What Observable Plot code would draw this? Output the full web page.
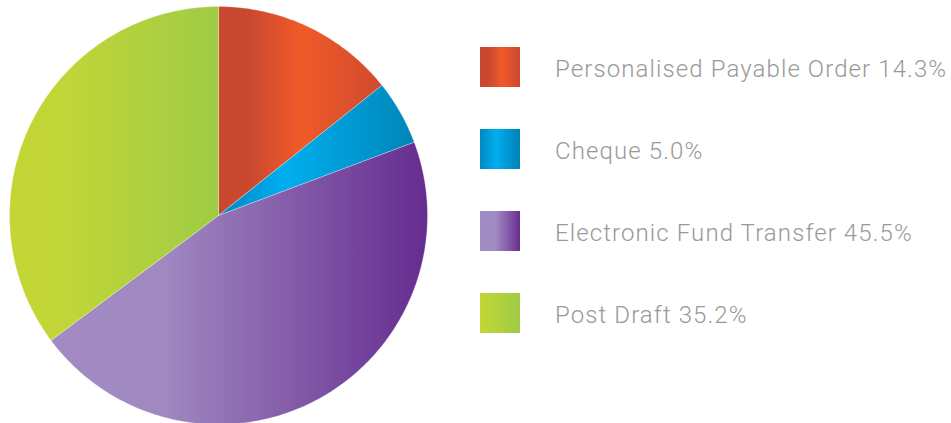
<!DOCTYPE html>
<html>
<head>
<meta charset="utf-8">
<script src="https://cdn.jsdelivr.net/npm/d3@7"></script>
<script src="https://cdn.jsdelivr.net/npm/@observablehq/plot@0.6"></script>
<style>
  body { margin: 0; background: #fff; }
  #wrap { position: relative; width: 951px; height: 423px; overflow: hidden; }
  #chart { position: absolute; left: 0; top: 0; }
  #legend { position: absolute; left: 480px; top: 47px; font-family: Roboto, "Liberation Sans", sans-serif; font-weight: 300; font-size: 24px; letter-spacing: 1.1px; color: #999999; }
  .item { display: flex; align-items: center; height: 40px; margin-bottom: 42px; white-space: nowrap; }
  .item span { position: relative; top: 2px; }
  .sw { width: 40px; height: 40px; margin-right: 35px; flex: none; }
</style>
</head>
<body>
<div id="wrap"><div id="chart"></div><div id="legend"></div></div>
<script>
const categories = ["Personalised Payable Order", "Cheque", "Electronic Fund Transfer", "Post Draft"];
const shares = [14.3, 5.0, 45.5, 35.2];
const labels = ["14.3%", "5.0%", "45.5%", "35.2%"];

const sliceGradients = [
  [[0, "#c8472f"], [0.18, "#c94830"], [0.5, "#f05a28"], [1, "#cf4a30"]],
  [[0, "#0086bf"], [0.33, "#00aeef"], [1, "#0086b8"]],
  [[0, "#a28ac2"], [0.3, "#a088c0"], [1, "#652c90"]],
  [[0, "#c4d636"], [0.3, "#c0d538"], [1, "#9fcb45"]]
];
const swatchGradients = [
  [[0, "#c8472f"], [0.2, "#c94830"], [0.55, "#f05a28"], [1, "#c94830"]],
  [[0, "#0088c0"], [0.4, "#00aeef"], [1, "#0080b8"]],
  [[0, "#a08cc4"], [0.4, "#a08ac2"], [1, "#662d91"]],
  [[0, "#c4d636"], [1, "#9fcb45"]]
];

const R = 209;
const pie = d3.pie().sort(null).value(d => d.share)(categories.map((c, i) => ({c, share: shares[i], i})));
const pts = [];
for (const s of pie) {
  const n = Math.max(2, Math.ceil((s.endAngle - s.startAngle) * 60));
  pts.push({k: s.data.i, x: 0, y: 0});
  for (let j = 0; j <= n; j++) {
    const a = s.startAngle + (s.endAngle - s.startAngle) * j / n;
    pts.push({k: s.data.i, x: R * Math.sin(a), y: R * Math.cos(a)});
  }
  pts.push({k: s.data.i, x: 0, y: 0});
}

const plot = Plot.plot({
  width: 440, height: 423,
  margin: 0,
  x: {domain: [-218, 222], axis: null},
  y: {domain: [-208, 215], axis: null},
  marks: categories.map((c, i) =>
    Plot.line(pts.filter(p => p.k === i), {x: "x", y: "y", fill: `url(#g${i})`, stroke: "#ffffff", strokeWidth: 0.6, strokeOpacity: 0.5, curve: "linear"})
  )
});
const ns = "http://www.w3.org/2000/svg";
const defs = document.createElementNS(ns, "defs");
sliceGradients.forEach((stops, i) => {
  const lg = document.createElementNS(ns, "linearGradient");
  lg.setAttribute("id", "g" + i);
  lg.setAttribute("x1", "0"); lg.setAttribute("x2", "1");
  lg.setAttribute("y1", "0"); lg.setAttribute("y2", "0");
  for (const [o, col] of stops) {
    const st = document.createElementNS(ns, "stop");
    st.setAttribute("offset", o); st.setAttribute("stop-color", col);
    lg.appendChild(st);
  }
  defs.appendChild(lg);
});
plot.insertBefore(defs, plot.firstChild);
document.getElementById("chart").appendChild(plot);

const legend = document.getElementById("legend");
categories.forEach((c, i) => {
  const item = document.createElement("div");
  item.className = "item";
  const sw = document.createElement("div");
  sw.className = "sw";
  sw.style.background = `linear-gradient(to right, ${swatchGradients[i].map(([o, col]) => `${col} ${o * 100}%`).join(", ")})`;
  const t = document.createElement("span");
  t.textContent = `${c} ${labels[i]}`;
  item.appendChild(sw); item.appendChild(t);
  legend.appendChild(item);
});
</script>
</body>
</html>
